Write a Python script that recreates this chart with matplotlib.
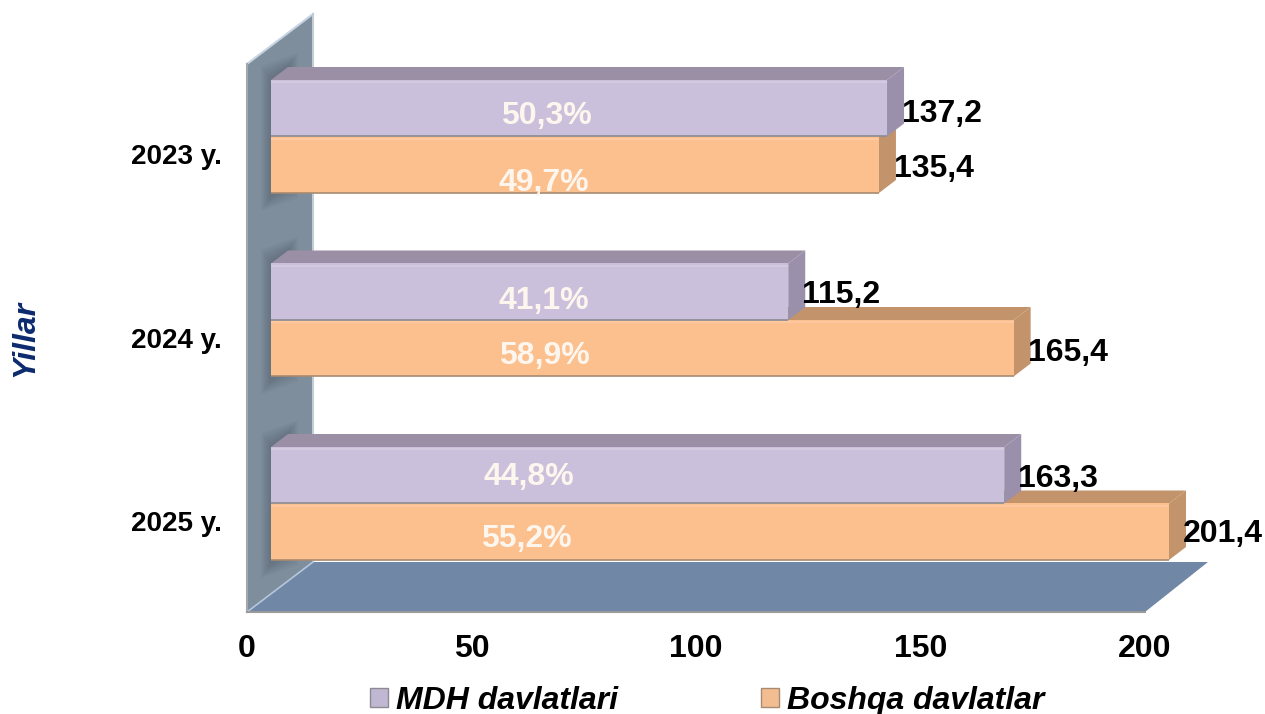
import numpy as np
import matplotlib
matplotlib.use('Agg')
import matplotlib.pyplot as plt
from matplotlib.patches import Patch

# data
years = ['2023 y.', '2024 y.', '2025 y.']
mdh_values = [137.2, 115.2, 163.3]
other_values = [135.4, 165.4, 201.4]
mdh_share = ['50,3%', '41,1%', '44,8%']
other_share = ['49,7%', '58,9%', '55,2%']
x_ticks = [0, 50, 100, 150, 200]

plt.rcParams['font.family'] = ['Liberation Sans', 'DejaVu Sans']
plt.rcParams['font.weight'] = 'bold'

W, H = 1265, 714
fig = plt.figure(figsize=(W / 100, H / 100), dpi=100)

# plot box in pixels, y goes from the floor front edge up to the wall top
left_px, right_px, top_px, bottom_px = 247, 1145, 14, 612
ax = fig.add_axes([left_px / W, 1 - bottom_px / H, (right_px - left_px) / W, (bottom_px - top_px) / H])

XMAX = 200
ROW_PX = 183.5
FIRST_ROW_PX = 136.5
px_x = XMAX / (right_px - left_px)
px_y = 1 / ROW_PX
ax.set_xlim(0, XMAX)
ax.set_ylim((bottom_px - FIRST_ROW_PX) * px_y, (top_px - FIRST_ROW_PX) * px_y)

# sizes of the fake 3d
wall_dx, wall_dy = 66 * px_x, 50 * px_y
bar_dx, bar_dy = 17 * px_x, 13 * px_y
bar_left = 24 * px_x
bar_h = 56.5 * px_y
y_bottom = ax.get_ylim()[0]
y_top = ax.get_ylim()[1]
ypos = np.arange(len(years))


def poly(xs, ys, color, z, **kw):
    ax.fill(xs, ys, color=color, lw=0, zorder=z, clip_on=False, **kw)


# back wall
wall_top_front = y_top + wall_dy
poly([0, 0, wall_dx, wall_dx], [y_bottom, wall_top_front, y_top, y_bottom - wall_dy], '#7f8e9d', 1)
ax.plot([0, wall_dx], [wall_top_front, y_top], color='#c5d3e2', lw=1.5, zorder=2, clip_on=False)
ax.plot([wall_dx, wall_dx], [y_top, y_bottom - wall_dy], color='#c4ccd4', lw=1.5, zorder=2, clip_on=False)
ax.plot([0, 0], [wall_top_front, y_bottom], color='#a3a8ad', lw=1.5, zorder=2, clip_on=False)

# soft shadow of the bars on the wall
for grow in range(14, 0, -2):
    for y in ypos:
        gx, gy = grow * px_x, grow * px_y
        sx0 = bar_left - gx * 0.7
        sx1 = bar_left + bar_dx + gx * 0.7
        poly([sx0, sx0, sx1, sx1],
             [y + bar_h + 4 * px_y + gy, y - bar_h - gy, y - bar_h - bar_dy - gy, y + bar_h - bar_dy + 4 * px_y + gy],
             '#3f4a55', 3, alpha=0.055)

# floor
floor_back = y_bottom - wall_dy
poly([0, wall_dx, XMAX + 63 * px_x, XMAX], [y_bottom, floor_back, floor_back, y_bottom], '#7187a6', 4)
ax.plot([0, wall_dx], [y_bottom, floor_back], color='#b4c6dc', lw=1.2, zorder=5, clip_on=False)
ax.plot([0, XMAX], [y_bottom, y_bottom], color='#9a9a9a', lw=1.5, zorder=5, clip_on=False)


def draw_bars(values, centers, front, top, side, low, light, z):
    # bars stop at the axis end, the label keeps the real value
    widths = np.minimum(values, XMAX)
    ax.barh(centers, widths, height=bar_h, left=bar_left, color=front, zorder=z + 1, clip_on=False)
    for w, c in zip(widths, centers):
        x0, x1 = bar_left, bar_left + w
        y0, y1 = c - bar_h / 2, c + bar_h / 2
        poly([x0, x0 + bar_dx, x1 + bar_dx, x1], [y0, y0 - bar_dy, y0 - bar_dy, y0], top, z)
        poly([x1, x1 + bar_dx, x1 + bar_dx, x1], [y0, y0 - bar_dy, y1 - bar_dy, y1], side, z)
        ax.plot([x0, x1], [y1, y1], color=low, lw=1.2, zorder=z + 2, clip_on=False, solid_capstyle='butt')
        ax.plot([x0, x1], [y0 + 2.5 * px_y, y0 + 2.5 * px_y], color=light, lw=1.5, zorder=z + 2, clip_on=False,
                solid_capstyle='butt')


row_z = 10
for i in ypos:
    draw_bars([other_values[i]], [i + bar_h / 2], '#fcc08e', '#c3946b', '#c3946b', '#a88a70', '#fdc7a0', row_z)
    draw_bars([mdh_values[i]], [i - bar_h / 2], '#cbc0db', '#9b8fa6', '#9a90ab', '#8b8a92', '#d3cae0', row_z + 4)
    row_z += 10

# value labels, a bit right of the bar
value_gap = [(15, 6, 4), (14, 3, 5), (14, 4, 2)]
for i in ypos:
    gap, mdh_dy, other_dy = value_gap[i]
    end_m = bar_left + min(mdh_values[i], XMAX)
    end_o = bar_left + min(other_values[i], XMAX)
    ax.annotate(str(mdh_values[i]).replace('.', ','), (end_m, i - bar_h / 2), xytext=(gap * 0.72, mdh_dy * -0.72),
                textcoords='offset points', ha='left', va='center', fontsize=23, color='black', zorder=90, annotation_clip=False)
    ax.annotate(str(other_values[i]).replace('.', ','), (end_o, i + bar_h / 2), xytext=(gap * 0.72, other_dy * -0.72),
                textcoords='offset points', ha='left', va='center', fontsize=23, color='black', zorder=90, annotation_clip=False)

# white share labels sit off centre in the original
share_x_px = [[275, 273], [273, 273], [258, 255]]
share_dy_px = [[8, 18], [9, 8], [2, 7]]
for i in ypos:
    for j, (txt, c) in enumerate([(mdh_share[i], i - bar_h / 2), (other_share[i], i + bar_h / 2)]):
        ax.annotate(txt, (bar_left + share_x_px[i][j] * px_x, c), xytext=(0, -share_dy_px[i][j] * 0.72),
                    textcoords='offset points', ha='center', va='center', fontsize=23, color='#fdf6ee', zorder=90, annotation_clip=False)

ax.set_xticks(x_ticks)
ax.set_yticks(ypos + 18 * px_y)
ax.set_yticklabels(years, fontsize=20)
ax.tick_params(axis='x', length=0, pad=16, labelsize=23)
ax.tick_params(axis='y', length=0, pad=18)
for s in ax.spines.values():
    s.set_visible(False)
ax.patch.set_alpha(0)

fig.text(25 / W, 1 - 338 / H, 'Yillar', rotation=90, style='italic', fontsize=23, color='#0c2a6e', ha='center', va='center')

handles = [Patch(facecolor='#c0b8d2', edgecolor='#8b8a92', label='MDH davlatlari'),
           Patch(facecolor='#f2bd90', edgecolor='#a88a70', label='Boshqa davlatlar')]
fig.legend(handles=handles, ncol=2, frameon=False, loc='center left', bbox_to_anchor=(370 / W, 1 - 701 / H),
           prop={'size': 23, 'style': 'italic', 'weight': 'bold'}, handlelength=0.55, handleheight=0.55,
           handletextpad=0.27, columnspacing=4.47, borderpad=0, borderaxespad=0)

fig.savefig('out.png', dpi=100)
